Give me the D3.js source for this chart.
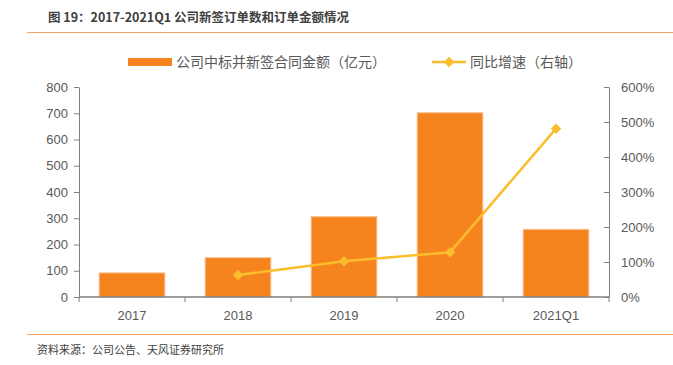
<!DOCTYPE html>
<html>
<head>
<meta charset="utf-8">
<script src="https://cdn.jsdelivr.net/npm/d3@7"></script>
<style>
  body { margin: 0; background: #fff; }
  text { font-family: "Liberation Sans", Arial, "Noto Sans CJK SC", sans-serif; }
  .cjk { font-family: "Noto Sans CJK SC", sans-serif; }
</style>
</head>
<body>
<div id="chart"></div>
<script>
// data
const categories = ["2017", "2018", "2019", "2020", "2021Q1"];
const amounts = [92, 150, 306, 702, 258];           // 亿元
const growth = [null, 63, 102, 128, 481];           // %
const leftTicks = [0, 100, 200, 300, 400, 500, 600, 700, 800];
const rightTicks = [0, 100, 200, 300, 400, 500, 600];

const width = 673, height = 365;
const margin = {top: 87, right: 64, bottom: 68, left: 79};
const plotW = width - margin.left - margin.right,
      plotH = height - margin.top - margin.bottom;

const barColor = "#F5841F", lineColor = "#FBBD2C", axisColor = "#7f7f7f", textColor = "#595959";

const svg = d3.select("#chart").append("svg")
  .attr("width", width)
  .attr("height", height);

// title + rules
svg.append("text")
  .attr("class", "cjk")
  .attr("x", 48).attr("y", 22)
  .style("font-size", "12.5px")
  .style("font-weight", "bold")
  .style("fill", "#404040")
  .text("图 19：2017-2021Q1 公司新签订单数和订单金额情况");

svg.append("line")
  .attr("x1", 27).attr("x2", width).attr("y1", 32.5).attr("y2", 32.5)
  .style("stroke", "#F4A460").style("stroke-width", 1.2);

svg.append("line")
  .attr("x1", 27).attr("x2", width).attr("y1", 334.5).attr("y2", 334.5)
  .style("stroke", "#F4A460").style("stroke-width", 1.2);

svg.append("text")
  .attr("class", "cjk")
  .attr("x", 37).attr("y", 354)
  .style("font-size", "11px")
  .style("fill", "#404040")
  .text("资料来源：公司公告、天风证券研究所");

const g = svg.append("g")
  .attr("transform", `translate(${margin.left},${margin.top})`);

// scales
const x = d3.scaleBand().domain(categories).range([0, plotW]).paddingInner(0.38).paddingOuter(0.19);
const y = d3.scaleLinear().domain([0, 800]).range([plotH, 0]);
const y2 = d3.scaleLinear().domain([0, 600]).range([plotH, 0]);

// bars
g.selectAll(".bar")
  .data(amounts)
  .enter().append("rect")
  .attr("class", "bar")
  .attr("x", (d, i) => x(categories[i]))
  .attr("y", d => y(d))
  .attr("width", x.bandwidth())
  .attr("height", d => y(0) - y(d))
  .style("fill", barColor)
  .style("stroke", "#FAC59A")
  .style("stroke-width", 1);

// left axis
const yAxis = d3.axisLeft(y).tickValues(leftTicks).tickSize(5).tickSizeOuter(0).tickPadding(6);
const gy = g.append("g").call(yAxis);

// right axis (ticks pointing inward)
const y2Axis = d3.axisRight(y2).tickValues(rightTicks).tickFormat(d => d + "%").tickSize(0).tickPadding(12);
const gy2 = g.append("g").attr("transform", `translate(${plotW},0)`).call(y2Axis);
gy2.selectAll(".tick").append("line").attr("x1", -5).attr("x2", 0);

// x axis: ticks at category boundaries
const gx = g.append("g").attr("transform", `translate(0,${plotH})`);
gx.append("line")
  .attr("x1", 0).attr("x2", plotW)
  .style("stroke", axisColor).style("stroke-width", 1.5);
const step = x.step();
gx.selectAll(".xt")
  .data(d3.range(categories.length + 1))
  .enter().append("line")
  .attr("x1", i => i * step).attr("x2", i => i * step)
  .attr("y1", 0).attr("y2", 5)
  .style("stroke", axisColor);
gx.selectAll(".xl")
  .data(categories)
  .enter().append("text")
  .attr("x", d => x(d) + x.bandwidth() / 2)
  .attr("y", 23)
  .attr("text-anchor", "middle")
  .style("font-size", "13px")
  .style("fill", textColor)
  .text(d => d);

[gy, gy2].forEach(a => {
  a.select(".domain").style("stroke", axisColor);
  a.selectAll(".tick line").style("stroke", axisColor);
  a.selectAll(".tick text").style("font-size", "13px").style("fill", textColor)
    .style("font-family", "'Liberation Sans', Arial, sans-serif");
});

// growth line
const pts = growth.map((v, i) => ({c: categories[i], v})).filter(d => d.v !== null);
const line = d3.line()
  .x(d => x(d.c) + x.bandwidth() / 2)
  .y(d => y2(d.v));

g.append("path")
  .datum(pts)
  .attr("d", line)
  .style("fill", "none")
  .style("stroke", lineColor)
  .style("stroke-width", 2.5);

const diamond = d3.symbol().type(d3.symbolDiamond2).size(70);
g.selectAll(".dot")
  .data(pts)
  .enter().append("path")
  .attr("transform", d => `translate(${x(d.c) + x.bandwidth() / 2},${y2(d.v)})`)
  .attr("d", diamond)
  .style("fill", lineColor);

// legend
const lg = svg.append("g");
lg.append("rect")
  .attr("x", 128).attr("y", 58).attr("width", 44).attr("height", 8)
  .style("fill", barColor);
lg.append("text")
  .attr("class", "cjk")
  .attr("x", 176).attr("y", 67)
  .style("font-size", "14px").style("fill", textColor)
  .text("公司中标并新签合同金额（亿元）");
lg.append("line")
  .attr("x1", 432).attr("x2", 466).attr("y1", 62).attr("y2", 62)
  .style("stroke", lineColor).style("stroke-width", 2.5);
lg.append("path")
  .attr("transform", "translate(449,62)")
  .attr("d", diamond)
  .style("fill", lineColor);
lg.append("text")
  .attr("class", "cjk")
  .attr("x", 470).attr("y", 67)
  .style("font-size", "14px").style("fill", textColor)
  .text("同比增速（右轴）");
</script>
</body>
</html>
